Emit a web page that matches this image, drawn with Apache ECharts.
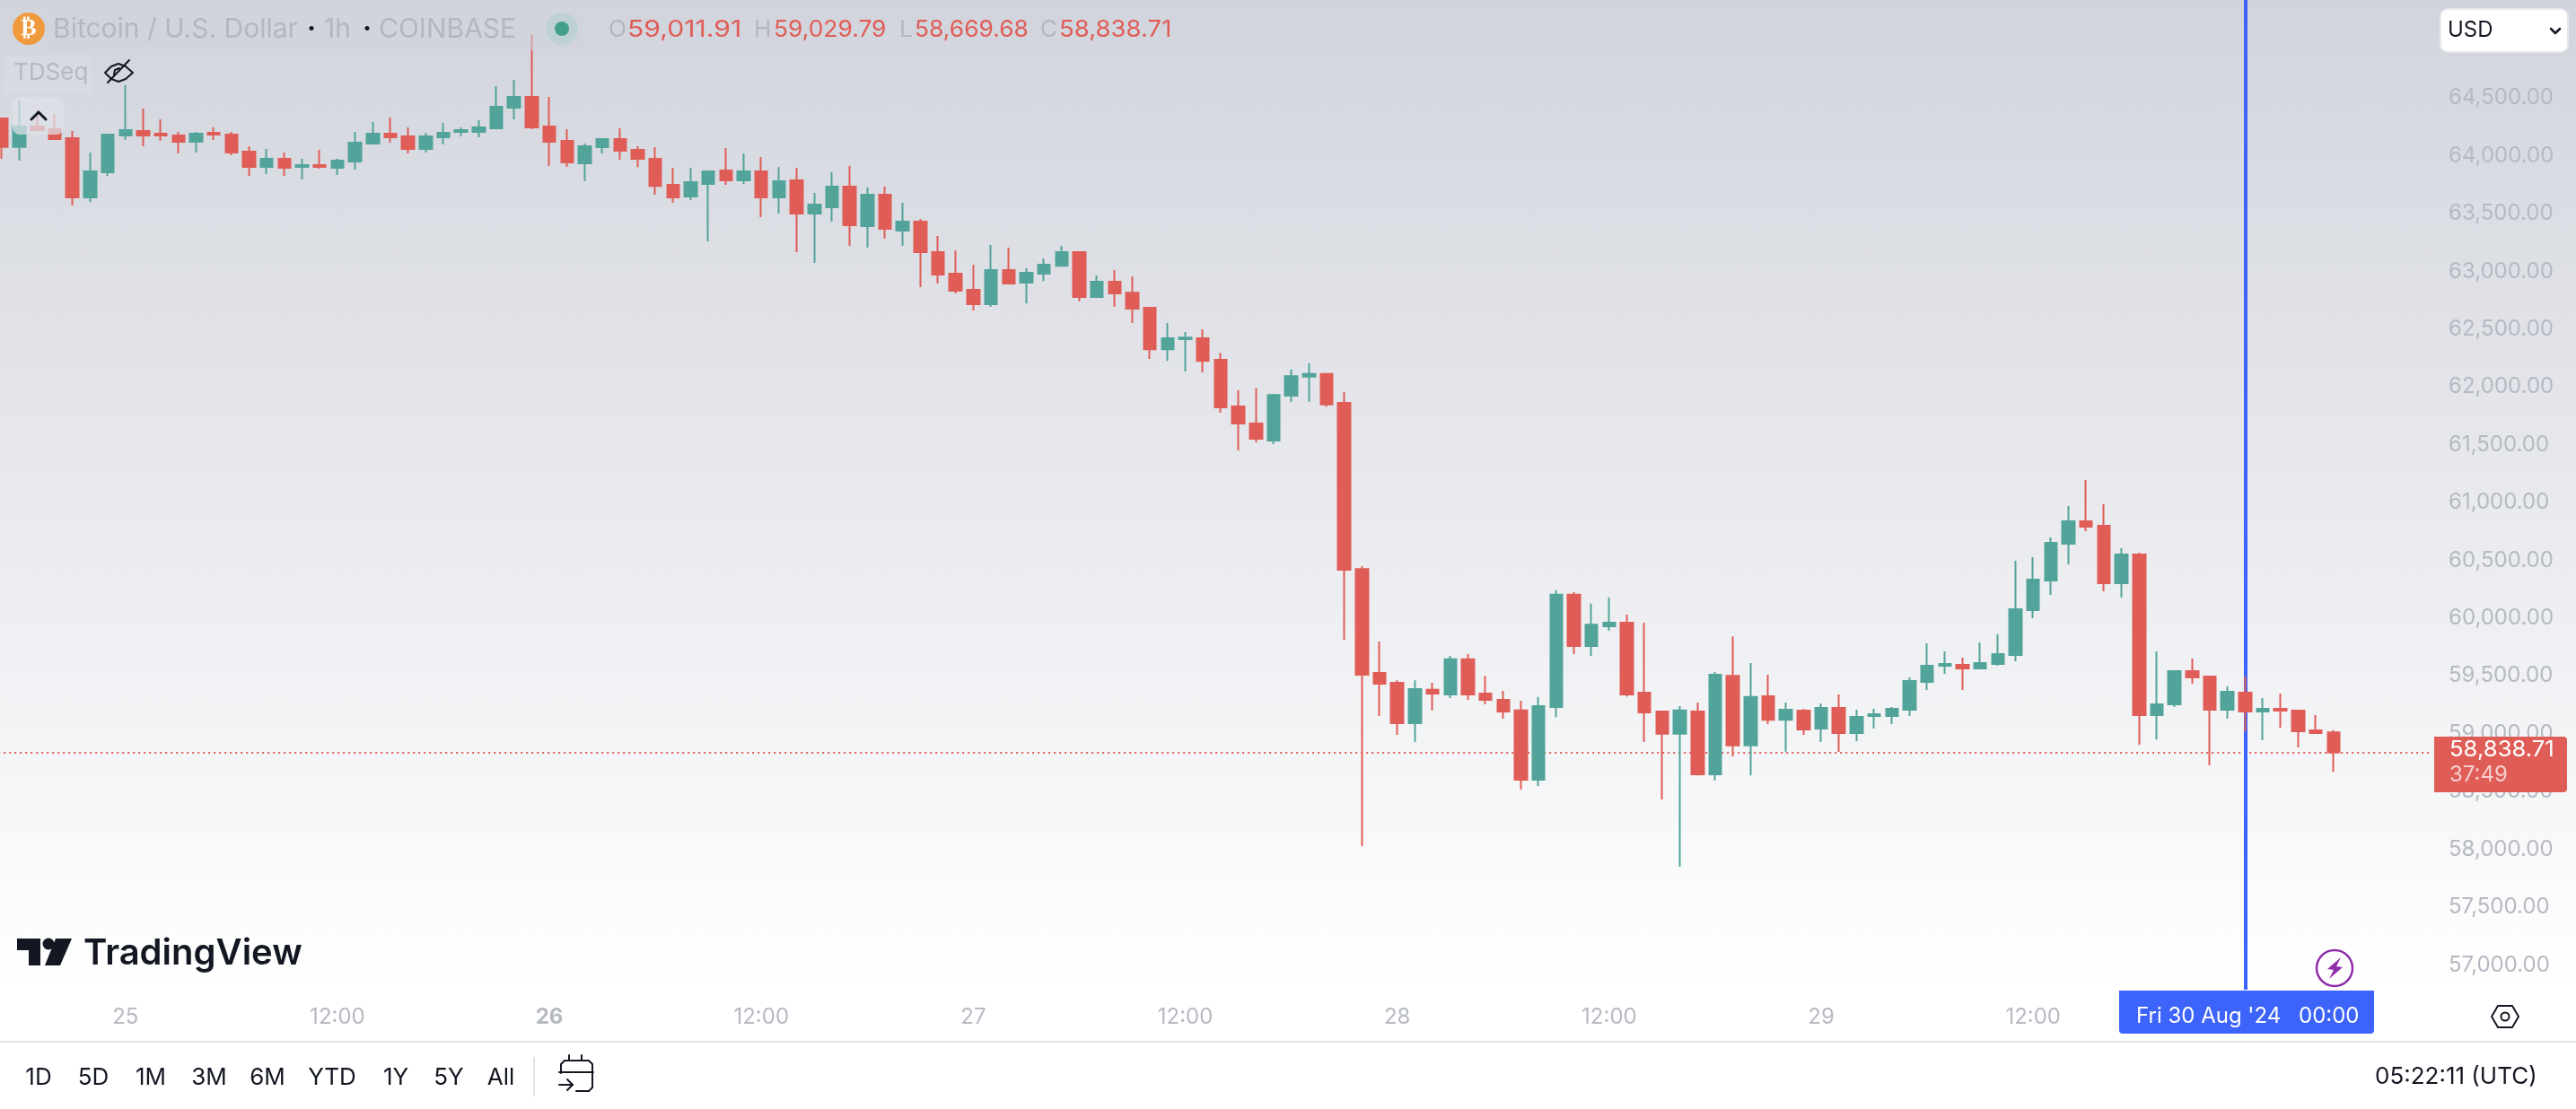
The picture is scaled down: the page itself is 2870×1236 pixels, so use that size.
<!DOCTYPE html>
<html>
<head>
<meta charset="utf-8">
<title>BTC/USD 1h</title>
<style>
  html, body { margin: 0; padding: 0; background: #fff; }
  #chart { width: 2870px; height: 1236px; }
</style>
<script src="https://cdn.jsdelivr.net/npm/echarts@6/dist/echarts.min.js"></script>
</head>
<body>
<div id="chart"></div>
<script>
// candles, hourly from 24 Aug 17:00 to 30 Aug 05:00 (UTC)
const openPrices = [
  64323,64077,64253,64230,64152,63640,63857,64176,64214,64191,
  64176,64121,64199,64183,64036,63904,63974,63904,63919,63896,
  63950,64106,64191,64168,64059,64160,64207,64207,64238,64416,
  64510,64253,64129,63935,64075,64145,64051,63973,63748,63647,
  63756,63872,63787,63865,63640,63787,63500,63554,63733,63391,
  63663,63352,63430,63166,62980,62840,62716,63011,62902,62980,
  63049,63166,62778,62910,62816,62685,62327,62413,62421,62234,
  61831,61684,61536,61925,62089,62112,61863,60425,59525,59441,
  59091,59379,59340,59643,59346,59293,59201,58601,59230,60202,
  59759,59929,59961,59355,59192,58999,59192,58648,59501,58898,
  59323,59120,59199,59044,59222,59005,59152,59152,59207,59447,
  59587,59595,59564,59603,59680,60068,60325,60643,60837,60798,
  60301,60550,59160,59253,59541,59494,59207,59354,59191,59214,
  59199,59028,59011.91
];
const closePrices = [
  64077,64253,64222,64145,63640,63865,64183,64222,64176,64176,
  64121,64191,64183,64028,63904,63974,63896,63919,63904,63958,
  64113,64191,64160,64059,64168,64199,64222,64245,64424,64510,
  64245,64121,63943,64082,64145,64044,63973,63740,63640,63772,
  63865,63787,63865,63640,63779,63500,63577,63733,63399,63663,
  63368,63430,63166,62972,62832,62716,63011,62894,62987,63057,
  63166,62778,62910,62809,62677,62327,62421,62428,62226,61823,
  61683,61551,61931,62094,62112,61848,60419,59510,59432,59091,
  59385,59346,59643,59340,59293,59192,58601,59239,60202,59759,
  59943,59961,59340,59183,58999,59201,58648,59510,58898,59317,
  59120,59207,59036,59222,59005,59145,59168,59214,59455,59587,
  59603,59564,59610,59688,60076,60332,60651,60837,60791,60301,
  60550,59160,59253,59541,59486,59207,59362,59191,59214,59199,
  59020,59005,58838.71
];
const highPrices = [
  64331,64478,64401,64362,64214,64028,64191,64610,64409,64315,
  64207,64207,64245,64207,64082,64059,64028,63974,64051,63974,
  64207,64292,64331,64245,64199,64284,64245,64308,64603,64657,
  65050,64510,64230,64106,64152,64238,64082,64074,63896,63896,
  63872,64067,64020,63989,63903,63896,63678,63857,63911,63725,
  63733,63593,63453,63306,63181,63057,63228,63205,63026,63112,
  63220,63166,62964,63011,62956,62692,62553,62475,62498,62296,
  61970,61988,61940,62151,62204,62112,61955,60449,59798,59462,
  59462,59441,59673,59688,59501,59370,59284,59317,60241,60226,
  60125,60178,60030,59961,59192,59239,59269,59533,59842,59611,
  59510,59269,59214,59261,59339,59207,59214,59230,59486,59781,
  59711,59657,59789,59859,60495,60527,60697,60969,61194,60985,
  60604,60565,59711,59541,59649,59494,59409,59494,59308,59346,
  59207,59160,59029.79
];
const lowPrices = [
  63974,63958,64210,64140,63570,63601,63826,64137,64082,64129,
  64020,64028,64137,64005,63826,63842,63826,63795,63888,63834,
  63881,64106,64113,64020,64028,64098,64168,64160,64238,64315,
  64230,63912,63904,63780,64020,63966,63903,63663,63593,63616,
  63259,63748,63756,63469,63500,63166,63073,63430,63220,63205,
  63282,63220,62863,62894,62809,62661,62692,62894,62723,62917,
  63049,62739,62778,62692,62553,62242,62226,62133,62126,61776,
  61450,61521,61506,61872,61872,61830,59813,58027,59153,58990,
  58927,59201,59308,59293,59254,59129,58517,58547,59144,59688,
  59673,59890,59322,58927,58431,57849,58639,58595,58803,58639,
  59082,58844,58989,58927,58842,58935,59044,59082,59152,59377,
  59517,59377,59556,59587,59626,59999,60200,60464,60752,60232,
  60177,58904,58950,59230,59432,58725,59129,59020,58943,59051,
  58881,58997,58669.68
];

// axis ticks
const priceTicks = [57000,57500,58000,58500,59000,59500,60000,60500,61000,61500,62000,62500,63000,63500,64000,64500];
const timeTickIndex = [7,19,31,43,55,67,79,91,103,115];
const timeTickLabels = ['25','12:00','26','12:00','27','12:00','28','12:00','29','12:00'];
const rangeButtons = ['1D','5D','1M','3M','6M','YTD','1Y','5Y','All'];
const rangeButtonX = [43,104,168,233,298,370,441,500,558];

const lastPrice = 58838.71;
const crosshairIndex = 127;

const UP = '#52a49a';
const DOWN = '#e05d57';
const INK = '#131722';
const AXIS_TEXT = '#b6b9c2';
const FONT = 'Inter';

// 5 empty hours on the right, the axis runs past the last candle
const hours = [];
for (let i = 0; i < openPrices.length + 5; i++) hours.push('h' + i);

const candles = openPrices.map((o, i) => [o, closePrices[i], lowPrices[i], highPrices[i]]);

function label (text, x, y, size, color, extra) {
  return {
    type: 'text',
    z: 101,
    style: Object.assign({
      text: text, x: x, y: y, fill: color,
      fontFamily: FONT, fontSize: size,
      verticalAlign: 'middle', align: 'left'
    }, extra || {})
  };
}
// Inter's 1 is narrower than the chart's font, so widen strings that have some
function stretched (text, x, y, size, color, scale) {
  return {
    type: 'text',
    z: 101,
    x: x,
    y: y,
    scaleX: scale,
    style: {
      text: text, x: 0, y: 0, fill: color,
      fontFamily: FONT, fontSize: size,
      verticalAlign: 'middle', align: 'left'
    }
  };
}
function line (points, color, width) {
  return {
    type: 'polyline',
    z: 101,
    shape: { points: points },
    style: { stroke: color, lineWidth: width, fill: null, lineJoin: 'round', lineCap: 'round' }
  };
}
function box (x, y, w, h, r, fill, stroke) {
  return {
    type: 'rect',
    z: 100,
    shape: { x: x, y: y, width: w, height: h, r: r },
    style: { fill: fill, stroke: stroke || null, lineWidth: stroke ? 2 : 0 }
  };
}
function dot (cx, cy, r, fill, stroke, width) {
  return {
    type: 'circle',
    z: 101,
    shape: { cx: cx, cy: cy, r: r },
    style: { fill: fill, stroke: stroke || null, lineWidth: width || 0 }
  };
}
function poly (points, fill) {
  return { type: 'polygon', z: 101, shape: { points: points }, style: { fill: fill } };
}

const overlay = [
  // legend row
  box(50, 12, 600, 44, 0, 'rgba(209,212,220,0.55)'),
  dot(32, 32, 18, '#f09a3e'),
  label('₿', 32, 32, 26, '#fff', { align: 'center', fontFamily: 'DejaVu Sans', fontWeight: 'bold' }),
  label('Bitcoin / U.S. Dollar', 59, 33, 30, '#b4b7c0'),
  label('·', 347, 33, 30, INK, { align: 'center', fontWeight: 'bold' }),
  label('1h', 361, 33, 30, '#b4b7c0'),
  label('·', 409, 33, 30, INK, { align: 'center', fontWeight: 'bold' }),
  label('COINBASE', 422, 33, 30, '#b4b7c0'),
  dot(626, 32, 18, '#bed2d4'),
  dot(626, 32, 8, '#42a08a'),
  label('O', 678, 33, 26, '#b4b7c0'),
  stretched('59,011.91', 699, 33, 26, DOWN, 1.16),
  label('H', 840, 33, 26, '#b4b7c0'),
  stretched('59,029.79', 862, 33, 26, DOWN, 1.016),
  label('L', 1002, 33, 26, '#b4b7c0'),
  stretched('58,669.68', 1019, 33, 26, DOWN, 1.016),
  label('C', 1159, 33, 26, '#b4b7c0'),
  stretched('58,838.71', 1180, 33, 26, DOWN, 1.06),

  // indicator row
  box(5, 62, 98, 42, 4, 'rgba(255,255,255,0.08)'),
  label('TDSeq', 15, 81, 26, '#b6b9c2'),
  line([[117,81],[124,74],[132,71],[140,74],[148,81],[140,88],[132,91],[124,88],[117,81]], INK, 2),
  line([[120,92],[144,67]], INK, 2),
  line([[127,83],[128,78],[133,76]], INK, 2),
  box(14, 108, 57, 42, 8, 'rgba(222,225,232,0.72)'),
  line([[35,133],[43,125],[51,133]], INK, 3),

  // currency button
  box(2719, 10, 142, 48, 8, '#fff', '#e6e8ee'),
  label('USD', 2727, 34, 24, INK),
  line([[2842,32],[2847,37],[2852,32]], INK, 2.5),

  // last price tag, hides the 58,500 tick behind it
  box(2712, 821, 148, 62, [0, 4, 4, 0], DOWN),
  stretched('58,838.71', 2729, 836, 24, '#fff', 1.07),
  label('37:49', 2729, 864, 24, 'rgba(255,255,255,0.7)'),

  // crosshair date tag
  box(2361, 1104, 284, 48, [0, 0, 4, 4], '#3c63fa'),
  label("Fri 30 Aug '24", 2380, 1133, 24, '#fff'),
  label('00:00', 2561, 1133, 24, '#fff'),

  // lightning badge
  dot(2601, 1079, 20, null, '#8e2eab', 2.5),
  poly([[2608,1067],[2593,1080],[2600,1081],[2595,1091],[2610,1078],[2603,1077]], '#8e2eab'),

  // settings hexagon
  line([[2776,1133],[2783,1121],[2799,1121],[2806,1133],[2799,1145],[2783,1145],[2776,1133]], INK, 2),
  dot(2791, 1133, 4.5, null, INK, 2),

  // TradingView logo
  poly([[19,1046],[45,1046],[45,1076],[32,1076],[32,1059],[19,1059]], INK),
  dot(54, 1052, 6.5, INK),
  poly([[62,1046],[80,1046],[67,1076],[50,1076]], INK),
  label('TradingView', 93, 1063, 40, INK, { fontWeight: 600 }),

  // bottom bar
  box(0, 1160, 2870, 2, 0, '#e0e3eb'),
  box(0, 1162, 2870, 74, 0, '#fff'),
  box(594, 1178, 2, 44, 0, '#e0e3eb'),
  line([[661,1195],[623,1195]], INK, 2),
  line([[625,1196],[625,1186],[629,1182],[656,1182],[660,1186],[660,1212],[656,1216],[642,1216]], INK, 2),
  line([[634,1176],[634,1182]], INK, 2),
  line([[648,1176],[648,1182]], INK, 2),
  line([[623,1209],[638,1209]], INK, 2),
  line([[632,1203],[638,1209],[632,1215]], INK, 2),
  label('05:22:11 (UTC)', 2646, 1200, 26, INK)
].concat(rangeButtons.map((t, i) => label(t, rangeButtonX[i], 1201, 26, INK, { align: 'center' })));

const option = {
  animation: false,
  backgroundColor: {
    type: 'linear', x: 0, y: 0, x2: 0, y2: 1,
    colorStops: [
      { offset: 0, color: '#d1d4dc' },
      { offset: 0.89, color: '#ffffff' },
      { offset: 1, color: '#ffffff' }
    ]
  },
  // negative left: the first candle is cut by the window edge
  grid: { left: -7.84, top: 0, width: 2715.84, height: 1103, outerBoundsMode: 'none' },
  xAxis: {
    type: 'category',
    data: hours,
    boundaryGap: true,
    axisLine: { show: false },
    axisTick: { show: false },
    splitLine: { show: false },
    axisLabel: {
      margin: 19,
      hideOverlap: false,
      fontFamily: FONT,
      fontSize: 24,
      color: AXIS_TEXT,
      interval: function (index) {
        return timeTickIndex.indexOf(index) >= 0;
      },
      formatter: function (value, index) {
        const text = timeTickLabels[timeTickIndex.indexOf(index)];
        return text === '26' ? '{bold|26}' : text;
      },
      rich: { bold: { fontFamily: FONT, fontSize: 24, fontWeight: 'bold', color: AXIS_TEXT } }
    }
  },
  yAxis: {
    type: 'value',
    position: 'right',
    min: 56785,
    max: 65348,
    axisLine: { show: false },
    axisTick: { show: false },
    splitLine: { show: false },
    axisLabel: {
      customValues: priceTicks,
      margin: 20,
      fontFamily: FONT,
      fontSize: 24,
      color: AXIS_TEXT,
      formatter: function (value) {
        return value.toLocaleString('en-US', { minimumFractionDigits: 2 });
      }
    }
  },
  series: [{
    type: 'candlestick',
    data: candles,
    barWidth: 14,
    z: 3,
    itemStyle: {
      color: UP,
      color0: DOWN,
      borderColor: UP,
      borderColor0: DOWN,
      borderWidth: 2
    },
    markLine: {
      z: 1,
      silent: true,
      symbol: 'none',
      label: { show: false },
      data: [
        { yAxis: lastPrice, lineStyle: { color: DOWN, width: 2, type: [2, 4], opacity: 1 } },
        { xAxis: crosshairIndex, lineStyle: { color: '#3c63fa', width: 4, type: 'solid', opacity: 1 } }
      ]
    }
  }],
  graphic: { elements: overlay }
};

const chart = echarts.init(document.getElementById('chart'));
chart.setOption(option);
</script>
</body>
</html>
